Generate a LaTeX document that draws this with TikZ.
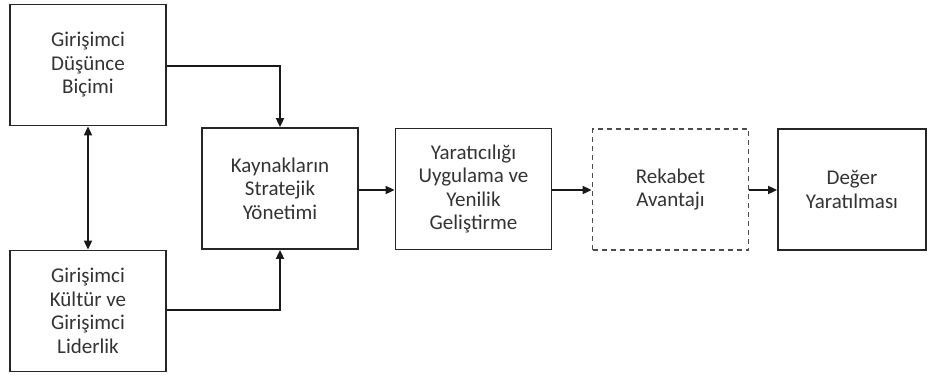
\documentclass[tikz,border=0pt]{standalone}
\usepackage{fontspec}
\setmainfont{Carlito}
\usetikzlibrary{arrows.meta}
\begin{document}
\begin{tikzpicture}[x=1pt,y=-1pt,
  box/.style={draw=black!85, line width=1.8pt, minimum width=156pt, minimum height=121pt,
    align=center, inner sep=0pt, font=\fontsize{21}{23.5}\selectfont, text=black!80},
  dbox/.style={box, draw=black!70, dashed, dash pattern=on 5pt off 4pt},
  link/.style={draw=black!90, line width=1.8pt, -{Triangle[length=9pt,width=8pt]}},
  both/.style={link, {Triangle[length=9pt,width=8pt]}-{Triangle[length=9pt,width=8pt]}}]
  \useasboundingbox (0,0) rectangle (928,376);
  \node[box] (mind) at (88,65) {Girişimci\\Düşünce\\Biçimi};
  \node[box] (cult) at (88,311) {Girişimci\\Kültür ve\\Girişimci\\Liderlik};
  \node[box] (res) at (280,188.5) {Kaynakların\\Stratejik\\Yönetimi};
  \node[box] (inn) at (473.5,189) {Yaratıcılığı\\Uygulama ve\\Yenilik\\Geliştirme};
  \node[dbox] (adv) at (670.5,189.5) {Rekabet\\Avantajı};
  \node[box, minimum width=148pt] (val) at (852,189.5) {Değer\\Yaratılması};
  \draw[both] (mind.south) -- (cult.north);
  \draw[link] (mind.east |- 0,66) -| (res.north);
  \draw[link] (cult.east |- 0,310) -| (res.south);
  \draw[link] (res.east |- 0,190) -- (inn.west |- 0,190);
  \draw[link] (inn.east |- 0,190) -- (adv.west |- 0,190);
  \draw[link] (adv.east |- 0,190) -- (val.west |- 0,190);
\end{tikzpicture}
\end{document}
